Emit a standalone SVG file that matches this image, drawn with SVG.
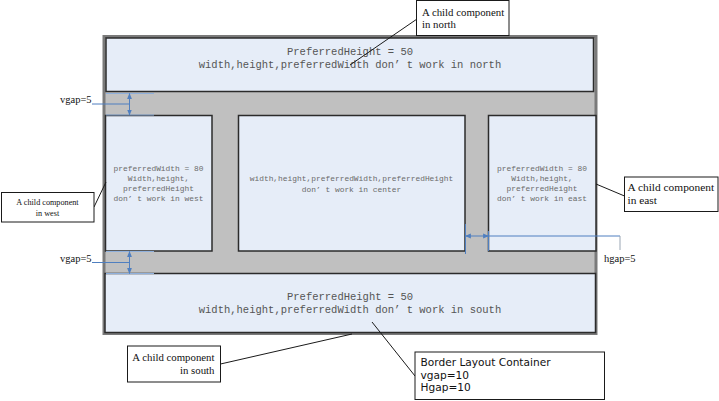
<svg xmlns="http://www.w3.org/2000/svg" width="719" height="401" viewBox="0 0 719 401">
  <defs>
    <marker id="ah" viewBox="0 0 10 10" refX="9" refY="5" markerWidth="6" markerHeight="6" orient="auto-start-reverse" markerUnits="userSpaceOnUse">
      <path d="M0,1 L10,5 L0,9 Z" fill="#4f7fc0"/>
    </marker>
    <style>
      .panel { fill: #e6edf8; stroke: #2b2b2b; stroke-width: 1.5; }
      .big { font-family: "Liberation Mono", monospace; font-size: 10.5px; fill: #555555; text-anchor: middle; }
      .small { font-family: "Liberation Mono", monospace; font-size: 7.9px; fill: #6a6a6a; text-anchor: middle; }
      .box { fill: #ffffff; stroke: #1a1a1a; stroke-width: 1; }
      .serif { font-family: "Liberation Serif", serif; fill: #111111; }
      .sans { font-family: "DejaVu Sans", sans-serif; font-size: 10.6px; fill: #111111; }
      .lead { stroke: #1a1a1a; stroke-width: 1; fill: none; }
      .dim { stroke: #4f7fc0; stroke-width: 1; fill: none; }
      .ext { stroke: #8fb0dc; stroke-width: 1; fill: none; }
    </style>
  </defs>

  <g id="container">
    <rect x="104" y="36.5" width="492" height="297" fill="#c0c0c0" stroke="#7a7a7a" stroke-width="3"/>
  </g>

  <g id="north">
    <rect class="panel" x="106" y="38" width="487.5" height="53.5"/>
    <text class="big" x="350" y="55">PreferredHeight = 50</text>
    <text class="big" x="350" y="68">width,height,preferredWidth don’ t work in north</text>
  </g>

  <g id="west">
    <rect class="panel" x="105.5" y="115.5" width="106.5" height="135.5"/>
    <text class="small" x="158.5" y="171">preferredWidth = 80</text>
    <text class="small" x="158.5" y="181">Width,height,</text>
    <text class="small" x="158.5" y="191">preferredHeight</text>
    <text class="small" x="158.5" y="201">don’ t  work in west</text>
  </g>

  <g id="center">
    <rect class="panel" x="238.5" y="115.5" width="226.5" height="135.5"/>
    <text class="small" x="351.5" y="181">width,height,preferredWidth,preferredHeight</text>
    <text class="small" x="351.5" y="192">don’ t work in center</text>
  </g>

  <g id="east">
    <rect class="panel" x="488.5" y="115.5" width="107.5" height="135.5"/>
    <text class="small" x="542" y="171">preferredWidth = 80</text>
    <text class="small" x="542" y="181">Width,height,</text>
    <text class="small" x="542" y="191">preferredHeight</text>
    <text class="small" x="542" y="201">don’ t  work in east</text>
  </g>

  <g id="south">
    <rect class="panel" x="105" y="273.5" width="490.5" height="59"/>
    <text class="big" x="350" y="300">PreferredHeight = 50</text>
    <text class="big" x="350" y="313">width,height,preferredWidth don’ t work in south</text>
  </g>

  <g id="connectors">
    <!-- callout leaders -->
    <line class="lead" x1="417" y1="19" x2="350" y2="65"/>
    <line class="lead" x1="94" y1="207" x2="106" y2="182"/>
    <line class="lead" x1="596" y1="184" x2="624.5" y2="196"/>
    <line class="lead" x1="220.5" y1="364" x2="352" y2="334"/>
    <line class="lead" x1="415" y1="376" x2="372" y2="322" stroke-width="0.7"/>

    <!-- top vgap -->
    <line class="ext" x1="106" y1="93.5" x2="154" y2="93.5"/>
    <line class="ext" x1="106" y1="115" x2="154" y2="115"/>
    <line class="dim" x1="129.5" y1="93.5" x2="129.5" y2="115" marker-start="url(#ah)" marker-end="url(#ah)"/>
    <line class="dim" x1="92" y1="104" x2="129" y2="104"/>

    <!-- bottom vgap -->
    <line class="ext" x1="106" y1="251.5" x2="154" y2="251.5"/>
    <line class="ext" x1="106" y1="273.5" x2="154" y2="273.5"/>
    <line class="dim" x1="129.5" y1="251.5" x2="129.5" y2="273.5" marker-start="url(#ah)" marker-end="url(#ah)"/>
    <line class="dim" x1="92" y1="262.5" x2="129" y2="262.5"/>

    <!-- hgap -->
    <line class="dim" x1="465.5" y1="224" x2="465.5" y2="254"/>
    <line class="dim" x1="488.5" y1="231" x2="488.5" y2="251"/>
    <line class="dim" x1="465.5" y1="236" x2="488.5" y2="236" marker-start="url(#ah)" marker-end="url(#ah)"/>
    <line class="dim" x1="488.5" y1="236" x2="620" y2="236"/>
    <line x1="620" y1="236" x2="620" y2="250" stroke="#9aa6b4" stroke-width="1"/>
  </g>

  <g id="label-vgap-top">
    <text class="serif" x="60" y="103" font-size="10.5">vgap=5</text>
  </g>
  <g id="label-vgap-bottom">
    <text class="serif" x="60" y="262" font-size="10.5">vgap=5</text>
  </g>
  <g id="label-hgap">
    <text class="serif" x="604" y="262" font-size="10.5">hgap=5</text>
  </g>

  <g id="callout-north">
    <rect class="box" x="416.5" y="0.5" width="92.5" height="35"/>
    <text class="serif" x="422" y="15.5" font-size="10.8">A child component</text>
    <text class="serif" x="422" y="28" font-size="10.8">in north</text>
  </g>

  <g id="callout-west">
    <rect class="box" x="1.5" y="192.5" width="92.5" height="29.5"/>
    <text class="serif" x="47.5" y="204.5" font-size="8.2" text-anchor="middle">A child component</text>
    <text class="serif" x="47.5" y="215.5" font-size="8.2" text-anchor="middle">in west</text>
  </g>

  <g id="callout-east">
    <rect class="box" x="624.5" y="177" width="93.5" height="34.5"/>
    <text class="serif" x="627.5" y="190.5" font-size="11.4">A child component</text>
    <text class="serif" x="627.5" y="203.5" font-size="11.4">in east</text>
  </g>

  <g id="callout-south">
    <rect class="box" x="127.5" y="346" width="93" height="36"/>
    <text class="serif" x="214.5" y="361" font-size="10.8" text-anchor="end">A child component</text>
    <text class="serif" x="214.5" y="374" font-size="10.8" text-anchor="end">in south</text>
  </g>

  <g id="callout-container">
    <rect class="box" x="415" y="352" width="189.5" height="47.5"/>
    <text class="sans" x="420.5" y="366">Border Layout Container</text>
    <text class="sans" x="420.5" y="378.5">vgap=10</text>
    <text class="sans" x="420.5" y="391">Hgap=10</text>
  </g>
</svg>
